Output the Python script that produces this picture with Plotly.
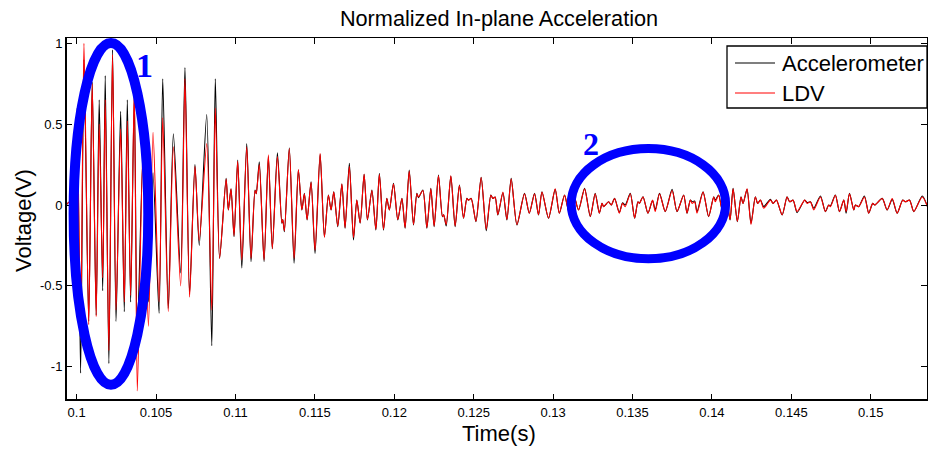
import plotly.graph_objects as go

# ---------------- data ----------------
time_s = [
    0.09933, 0.09958, 0.09980, 0.10003, 0.10025, 0.10046, 0.10076, 0.10098, 0.10123, 0.10142,
    0.10164, 0.10180, 0.10203, 0.10226, 0.10248, 0.10277, 0.10300, 0.10319, 0.10340, 0.10363,
    0.10382, 0.10418, 0.10452, 0.10481, 0.10519, 0.10542, 0.10577, 0.10609, 0.10655, 0.10682,
    0.10711, 0.10745, 0.10772, 0.10819, 0.10851, 0.10873, 0.10900,
    0.10941, 0.10955, 0.10972, 0.10991, 0.11014, 0.11040, 0.11071, 0.11098, 0.11123, 0.11131,
    0.11150, 0.11180, 0.11207, 0.11232, 0.11264, 0.11292, 0.11298, 0.11308, 0.11339, 0.11369,
    0.11396, 0.11418, 0.11434, 0.11451, 0.11476, 0.11501, 0.11533, 0.11560, 0.11585, 0.11602,
    0.11619, 0.11644, 0.11670, 0.11690, 0.11717, 0.11743, 0.11764, 0.11785, 0.11810, 0.11831,
    0.11859, 0.11884, 0.11906, 0.11932, 0.11953, 0.11969, 0.11995, 0.12022, 0.12048, 0.12068,
    0.12094, 0.12121, 0.12142, 0.12152, 0.12180, 0.12205, 0.12230, 0.12251, 0.12278, 0.12303,
    0.12311, 0.12327, 0.12356, 0.12383, 0.12410, 0.12436, 0.12457, 0.12467, 0.12484, 0.12514,
    0.12547, 0.12579, 0.12608, 0.12621, 0.12635, 0.12652, 0.12684, 0.12709, 0.12736, 0.12772,
    0.12820, 0.12850, 0.12883, 0.12908, 0.12930, 0.12971, 0.13013, 0.13039, 0.13072, 0.13097,
    0.13127, 0.13160, 0.13198, 0.13234, 0.13265, 0.13291, 0.13308, 0.13318, 0.13349, 0.13366,
    0.13387, 0.13417, 0.13437, 0.13454, 0.13486, 0.13513, 0.13534, 0.13543, 0.13566, 0.13597,
    0.13626, 0.13643, 0.13670, 0.13706, 0.13749, 0.13780, 0.13822, 0.13843, 0.13864, 0.13875,
    0.13891, 0.13906, 0.13944, 0.13979, 0.14011, 0.14021, 0.14042, 0.14065, 0.14091, 0.14114,
    0.14133, 0.14160, 0.14183, 0.14196, 0.14221, 0.14246, 0.14273, 0.14288, 0.14305, 0.14326,
    0.14368, 0.14385, 0.14406, 0.14442, 0.14473, 0.14489, 0.14511, 0.14536, 0.14584, 0.14599,
    0.14620, 0.14641, 0.14683, 0.14714, 0.14735, 0.14746, 0.14777, 0.14803, 0.14830, 0.14845,
    0.14866, 0.14893, 0.14903, 0.14924, 0.14960, 0.14987, 0.15012, 0.15025, 0.15072, 0.15103,
    0.15135, 0.15166, 0.15201, 0.15218, 0.15244, 0.15271, 0.15324, 0.15361,
]

accelerometer = [
    0.00, 0.02, -0.45, 0.60, -1.04, 0.90, -0.72, 0.76, -0.68, 0.65,
    -0.53, 0.80, -0.98, 0.96, -0.72, 0.58, -0.66, 0.65, -0.60, 0.68,
    -0.80, 0.30, -0.60, 0.20, -0.67, 0.78, -0.64, 0.44, -0.42, 0.85,
    -0.55, 0.25, -0.25, 0.56, -0.87, 0.78, -0.33,
    0.165, -0.03, 0.10, -0.196, 0.278, -0.39, 0.38, -0.35, 0.093, 0.07,
    0.268, -0.35, 0.30, -0.27, 0.323, -0.113, -0.09, -0.165, 0.354, -0.36,
    0.216, -0.031, 0.072, -0.093, 0.144, -0.30, 0.313, -0.196, 0.062, -0.031,
    0.082, -0.134, 0.13, -0.144, 0.258, -0.216, 0.031, -0.113, 0.19, -0.093,
    0.093, -0.155, 0.196, -0.155, 0.041, -0.031, 0.134, -0.093, 0.041, -0.144,
    0.216, -0.124, 0.072, 0.045, 0.093, -0.144, 0.103, -0.134, 0.185, -0.072,
    -0.06, -0.13, 0.179, -0.134, 0.124, -0.082, 0.041, 0.03, 0.041, -0.103,
    0.171, -0.159, 0.062, 0.04, 0.05, -0.062, 0.076, -0.093, 0.165, -0.124,
    0.072, -0.051, 0.072, -0.062, 0.082, -0.082, 0.097, -0.051, 0.062, -0.031,
    0.07, -0.031, 0.103, -0.072, 0.072, -0.051, 0.01, -0.01, 0.02, 0.0,
    0.041, -0.047, 0.014, 0.0, 0.072, -0.082, 0.02, 0.01, 0.051, -0.051,
    0.027, -0.03, 0.072, -0.041, 0.097, -0.041, 0.062, -0.051, 0.031, 0.02,
    0.025, -0.041, 0.082, -0.072, 0.051, 0.03, 0.062, -0.03, 0.04, -0.093,
    0.103, -0.103, 0.051, 0.01, 0.097, -0.113, 0.051, 0.01, 0.031, -0.01,
    0.035, 0.01, 0.031, -0.062, 0.051, 0.02, 0.03, -0.047, 0.031, 0.015,
    0.02, -0.02, 0.056, -0.041, 0.0, -0.005, 0.062, -0.041, 0.031, -0.051,
    0.072, -0.031, 0.0, -0.01, 0.056, -0.051, 0.01, 0.0, 0.041, -0.031,
    0.035, -0.051, 0.031, 0.02, 0.031, -0.041, 0.056, -0.02,
]

ldv = [
    0.00, 0.02, -0.40, 0.55, -0.82, 1.00, -0.74, 0.75, -0.69, 0.50,
    -0.45, 0.65, -0.90, 0.93, -0.65, 0.47, -0.60, 0.52, -0.56, 0.72,
    -1.15, 0.35, -0.75, 0.45, -0.60, 0.54, -0.66, 0.36, -0.50, 0.78,
    -0.57, 0.24, -0.22, 0.38, -0.65, 0.60, -0.33,
    0.16, -0.03, 0.10, -0.19, 0.27, -0.34, 0.36, -0.33, 0.09, 0.07,
    0.25, -0.34, 0.31, -0.27, 0.30, -0.11, -0.09, -0.16, 0.35, -0.33,
    0.22, -0.03, 0.07, -0.09, 0.14, -0.28, 0.32, -0.20, 0.06, -0.03,
    0.08, -0.13, 0.13, -0.14, 0.24, -0.20, 0.03, -0.11, 0.19, -0.09,
    0.09, -0.15, 0.19, -0.15, 0.04, -0.03, 0.13, -0.09, 0.04, -0.14,
    0.21, -0.12, 0.07, 0.05, 0.09, -0.14, 0.10, -0.13, 0.18, -0.07,
    -0.06, -0.12, 0.18, -0.13, 0.12, -0.08, 0.04, 0.03, 0.04, -0.10,
    0.17, -0.15, 0.06, 0.04, 0.05, -0.06, 0.08, -0.09, 0.16, -0.12,
    0.07, -0.05, 0.07, -0.06, 0.08, -0.08, 0.10, -0.05, 0.06, -0.03,
    0.07, -0.03, 0.10, -0.07, 0.07, -0.05, 0.01, -0.01, 0.02, 0.00,
    0.04, -0.05, 0.01, -0.01, 0.07, -0.08, 0.02, 0.01, 0.05, -0.05,
    0.03, -0.04, 0.07, -0.04, 0.09, -0.04, 0.06, -0.05, 0.03, 0.01,
    0.02, -0.05, 0.08, -0.07, 0.05, 0.02, 0.06, -0.03, 0.04, -0.09,
    0.10, -0.10, 0.05, 0.01, 0.10, -0.12, 0.05, 0.01, 0.03, -0.02,
    0.03, 0.01, 0.03, -0.06, 0.05, 0.02, 0.03, -0.04, 0.03, 0.01,
    0.02, -0.03, 0.05, -0.04, 0.00, -0.01, 0.06, -0.04, 0.03, -0.04,
    0.07, -0.03, 0.00, -0.01, 0.05, -0.05, 0.01, 0.00, 0.04, -0.03,
    0.04, -0.05, 0.03, 0.02, 0.03, -0.04, 0.05, -0.02,
]

x_tick_vals = [0.1, 0.105, 0.11, 0.115, 0.12, 0.125, 0.13, 0.135, 0.14, 0.145, 0.15]
x_tick_text = ["0.1", "0.105", "0.11", "0.115", "0.12", "0.125", "0.13", "0.135", "0.14", "0.145", "0.15"]
y_tick_vals = [-1, -0.5, 0, 0.5, 1]
y_tick_text = ["-1", "-0.5", "0", "0.5", "1"]

series_names = ["Accelerometer", "LDV"]
series_colors = ["#000000", "#ff0000"]

# ---------------- figure ----------------
W, H = 928, 450
ML, MR, MT, MB = 66, 1, 38, 50
PW, PH = W - ML - MR, H - MT - MB

def px(xp):
    return (xp - ML) / PW

def py(yp):
    return (H - MB - yp) / PH

fig = go.Figure()
for name, vals, col in zip(series_names, [accelerometer, ldv], series_colors):
    fig.add_trace(go.Scatter(x=time_s, y=vals, mode="lines", name=name,
                             line=dict(color=col, width=1.1, shape="spline", smoothing=0.7),
                             showlegend=False))

FONT = "Liberation Sans, Arial, sans-serif"
axis_common = dict(showline=True, linecolor="black", linewidth=1, mirror="ticks",
                   ticks="inside", ticklen=6, tickcolor="black", tickwidth=1,
                   showgrid=False, zeroline=False,
                   tickfont=dict(family=FONT, size=13, color="black"))

fig.update_layout(
    width=W, height=H,
    margin=dict(l=ML, r=MR, t=MT, b=MB, pad=0),
    paper_bgcolor="white", plot_bgcolor="white",
    title=dict(text="Normalized In-plane Acceleration", x=(499) / W, xanchor="center",
               y=1 - 18.5 / H, yanchor="middle",
               font=dict(family=FONT, size=21.7, color="black")),
    xaxis=dict(range=[0.09933, 0.15354], tickvals=x_tick_vals, ticktext=x_tick_text,
               **axis_common),
    yaxis=dict(range=[-1.206, 1.033], tickvals=y_tick_vals, ticktext=y_tick_text,
               **axis_common),
    showlegend=False,
)

shapes = []
# thicker left and bottom frame lines
shapes.append(dict(type="line", xref="paper", yref="paper", x0=0, x1=1, y0=0, y1=0,
                   line=dict(color="black", width=2)))
shapes.append(dict(type="line", xref="paper", yref="paper", x0=0, x1=0, y0=0, y1=1,
                   line=dict(color="black", width=2)))
# highlight ellipses
shapes.append(dict(type="circle", xref="x", yref="y", x0=0.09981, x1=0.10451,
                   y0=-1.112, y1=1.002, line=dict(color="#0000ff", width=10)))
shapes.append(dict(type="circle", xref="x", yref="y", x0=0.13114, x1=0.14086,
                   y0=-0.333, y1=0.349, line=dict(color="#0000ff", width=9)))
# legend box
shapes.append(dict(type="rect", xref="paper", yref="paper", x0=px(727), x1=1.0,
                   y0=py(108), y1=py(46), fillcolor="white",
                   line=dict(color="black", width=1.3)))
for i, col in enumerate(series_colors):
    yy = py(63 + 30 * i)
    shapes.append(dict(type="line", xref="paper", yref="paper", x0=px(735), x1=px(775),
                       y0=yy, y1=yy, line=dict(color=col, width=1.1)))
fig.update_layout(shapes=shapes)

ann = []
for i, name in enumerate(series_names):
    ann.append(dict(text=name, xref="paper", yref="paper", x=px(780), y=py(63 + 30 * i),
                    xanchor="left", yanchor="middle", showarrow=False,
                    font=dict(family=FONT, size=22, color="black")))
ann.append(dict(text="Time(s)", xref="paper", yref="paper", x=px(499), y=py(433),
                xanchor="center", yanchor="middle", showarrow=False,
                font=dict(family=FONT, size=22, color="black")))
ann.append(dict(text="Voltage(V)", xref="paper", yref="paper", x=px(23), y=py(221),
                xanchor="center", yanchor="middle", textangle=-90, showarrow=False,
                font=dict(family=FONT, size=22, color="black")))
ann.append(dict(text="<b>1</b>", xref="x", yref="y", x=0.1043, y=0.866,
                xanchor="center", yanchor="middle", showarrow=False,
                font=dict(family="Liberation Serif, Times New Roman, serif", size=34, color="#0000ff")))
ann.append(dict(text="<b>2</b>", xref="x", yref="y", x=0.13239, y=0.378,
                xanchor="center", yanchor="middle", showarrow=False,
                font=dict(family="Liberation Serif, Times New Roman, serif", size=32, color="#0000ff")))
fig.update_layout(annotations=ann)

fig.write_html("out.html")
